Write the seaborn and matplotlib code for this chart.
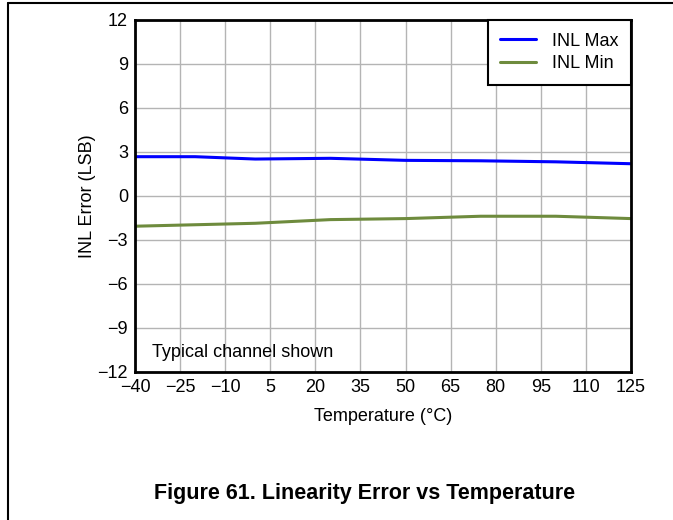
import matplotlib
matplotlib.use("Agg")
import matplotlib.pyplot as plt
import seaborn as sns
import pandas as pd
from matplotlib.lines import Line2D

temps = [-40, -20, 0, 25, 50, 75, 100, 125]
inl_max = [2.68, 2.68, 2.52, 2.57, 2.43, 2.40, 2.33, 2.20]
inl_min = [-2.06, -1.96, -1.86, -1.61, -1.54, -1.38, -1.38, -1.54]
x_ticks = [-40, -25, -10, 5, 20, 35, 50, 65, 80, 95, 110, 125]
y_ticks = [-12, -9, -6, -3, 0, 3, 6, 9, 12]

df = pd.concat([
    pd.DataFrame({"Temperature": temps, "INL": inl_max, "Series": "INL Max"}),
    pd.DataFrame({"Temperature": temps, "INL": inl_min, "Series": "INL Min"}),
])

sns.set_style("white")
plt.rcParams["font.family"] = ["Liberation Sans", "DejaVu Sans"]
plt.rcParams["text.color"] = "black"
plt.rcParams["axes.labelcolor"] = "black"
plt.rcParams["xtick.color"] = "black"
plt.rcParams["ytick.color"] = "black"

fig = plt.figure(figsize=(6.73, 5.20), dpi=100)
ax = fig.add_axes([135/673, 1-372/520, (631-135)/673, (372-20)/520])

sns.lineplot(data=df, x="Temperature", y="INL", hue="Series",
             palette={"INL Max": "#0000FF", "INL Min": "#6E8B3D"},
             linewidth=2.2, ax=ax)

ax.set_xlim(-40, 125)
ax.set_ylim(-12, 12)
ax.set_xticks(x_ticks)
ax.set_yticks(y_ticks)
ax.grid(True, color="#B4B4B4", linewidth=1.0)
ax.set_axisbelow(True)
for s in ax.spines.values():
    s.set_color("black")
    s.set_linewidth(2)
ax.tick_params(length=0, labelsize=13, pad=5)
ax.set_xlabel("Temperature (°C)", fontsize=13, labelpad=9)
ax.set_ylabel("INL Error (LSB)", fontsize=13, labelpad=1)

leg = ax.legend(loc="upper right", fontsize=13, frameon=True, fancybox=False,
                borderaxespad=0, handlelength=1.95, handletextpad=0.9,
                labelspacing=0.3, borderpad=0.7, framealpha=1)
leg.get_frame().set_edgecolor("black")
leg.get_frame().set_linewidth(1.5)
leg.set_title(None)

ax.text(0.035, 0.03, "Typical channel shown", transform=ax.transAxes,
        fontsize=13, ha="left", va="bottom")

fig.text(365/673, 1-493/520, "Figure 61. Linearity Error vs Temperature",
         fontsize=15.5, fontweight="bold", ha="center", va="center")

fig.add_artist(Line2D([8/673, 8/673], [0, 1-3/520], transform=fig.transFigure,
                      color="black", linewidth=1.5))
fig.add_artist(Line2D([8/673, 1], [1-3/520, 1-3/520], transform=fig.transFigure,
                      color="black", linewidth=1.5))

fig.savefig("out.png", dpi=100)
